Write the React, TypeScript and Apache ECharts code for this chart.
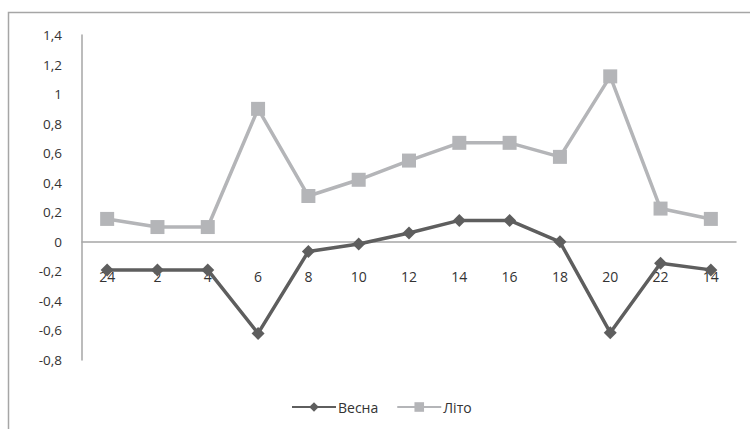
import React, { useEffect, useRef } from "react";
import * as echarts from "echarts";

const categories = ["24", "2", "4", "6", "8", "10", "12", "14", "16", "18", "20", "22", "14"];
const vesna = [-0.19, -0.19, -0.19, -0.62, -0.065, -0.015, 0.06, 0.145, 0.145, 0.0, -0.615, -0.145, -0.19];
const lito = [0.155, 0.1, 0.1, 0.9, 0.31, 0.42, 0.55, 0.67, 0.67, 0.575, 1.12, 0.225, 0.155];
const seriesNames = ["Весна", "Літо"];

export default function App() {
  const ref = useRef<HTMLDivElement>(null);
  useEffect(() => {
    const chart = echarts.init(ref.current!, null, { renderer: "svg" });
    const font = "'Open Sans', 'Noto Sans', sans-serif";
    chart.setOption({
      animation: false,
      backgroundColor: "#ffffff",
      graphic: [
        {
          type: "rect",
          shape: { x: 8.5, y: 12.5, width: 800, height: 500 },
          style: { fill: "none", stroke: "#a6a6a6", lineWidth: 1.5 },
          silent: true,
        },
      ],
      grid: { left: 82, right: 14, top: 35, bottom: 69, containLabel: false },
      legend: {
        top: 395,
        left: 286,
        itemWidth: 44,
        itemHeight: 12,
        itemGap: 18,
        textStyle: { fontFamily: font, fontSize: 14, color: "#333333", padding: [0, 0, 0, -3] },
        data: seriesNames,
      },
      xAxis: {
        type: "category",
        data: categories,
        boundaryGap: true,
        offset: -118,
        axisLine: { onZero: false, lineStyle: { color: "#a6a6a6", width: 1.5 } },
        axisTick: { show: false },
        axisLabel: { margin: 27, fontFamily: font, fontSize: 14, color: "#333333" },
        splitLine: { show: false },
      },
      yAxis: {
        type: "value",
        min: -0.8,
        max: 1.4,
        interval: 0.2,
        axisLine: { show: true, lineStyle: { color: "#a6a6a6", width: 1.5 } },
        axisTick: { show: false },
        splitLine: { show: false },
        axisLabel: {
          margin: 20,
          fontFamily: font,
          fontSize: 13.5,
          color: "#333333",
          formatter: (v: number) => {
            const r = Math.round(v * 10) / 10;
            return String(r).replace(".", ",");
          },
        },
      },
      series: [
        {
          name: seriesNames[0],
          type: "line",
          data: vesna,
          symbol: "diamond",
          symbolSize: 13,
          lineStyle: { color: "#5e5e5e", width: 3.5 },
          itemStyle: { color: "#5e5e5e" },
          z: 3,
        },
        {
          name: seriesNames[1],
          type: "line",
          data: lito,
          symbol: "rect",
          symbolSize: 14,
          lineStyle: { color: "#b4b5b8", width: 3.5 },
          itemStyle: { color: "#b4b5b8" },
          z: 2,
        },
      ],
    });
    return () => chart.dispose();
  }, []);
  return <div ref={ref} style={{ width: 750, height: 429, position: "absolute", left: 0, top: 0 }} />;
}
